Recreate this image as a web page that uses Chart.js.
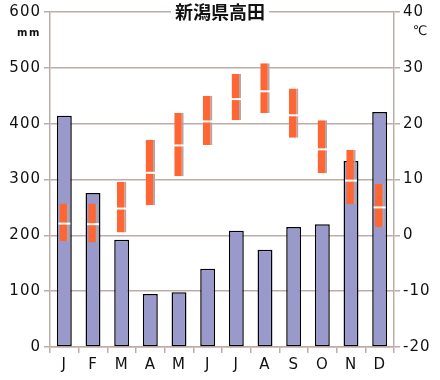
<!DOCTYPE html>
<html>
<head>
<meta charset="utf-8">
<script src="https://cdn.jsdelivr.net/npm/chart.js@4.4.1/dist/chart.umd.min.js"></script>
<style>
  html, body { margin: 0; padding: 0; background: #fff; }
  #wrap { width: 440px; height: 380px; position: relative; }
</style>
</head>
<body>
<div id="wrap"><canvas id="climate"></canvas></div>
<script>
// ------ Data (新潟県高田) ------
const months   = ['J', 'F', 'M', 'A', 'M', 'J', 'J', 'A', 'S', 'O', 'N', 'D'];
const precipMm = [414, 276, 192, 95, 98, 140, 208, 174, 215, 220, 333, 421];
const tempMax  = [5.7, 5.7, 9.6, 17.1, 21.9, 25.0, 28.9, 30.8, 26.3, 20.6, 15.3, 9.2];
const tempMin  = [-1.0, -1.3, 0.5, 5.4, 10.6, 16.2, 20.6, 21.9, 17.5, 11.1, 5.6, 1.5];
const tempMean = [2.1, 2.0, 4.8, 11.2, 16.1, 20.4, 24.4, 25.8, 21.5, 15.4, 9.8, 5.0];
const precipTicks = [0, 100, 200, 300, 400, 500, 600];
const tempTicks   = [-20, -10, 0, 10, 20, 30, 40];

const GRID = '#bcadaa';
const TEXT = '#111';
const FONT = 'DejaVu Sans, Verdana, sans-serif';

// title + unit labels, drawn over the top gridline
const labelsPlugin = {
  id: 'labels',
  beforeDraw(chart) { chart.ctx.letterSpacing = '1px'; },
  afterDraw(chart) {
    const ctx = chart.ctx;
    ctx.save();
    ctx.letterSpacing = '0px';
    ctx.font = 'bold 18px "Noto Sans CJK JP", sans-serif';
    const title = '新潟県高田';
    const w = ctx.measureText(title).width;
    ctx.fillStyle = '#fff';
    ctx.fillRect(220 - w / 2 - 4, 0, w + 8, 24);
    ctx.fillStyle = TEXT;
    ctx.textAlign = 'center';
    ctx.textBaseline = 'middle';
    ctx.fillText(title, 220, 12);
    ctx.letterSpacing = '1.5px';
    ctx.font = 'bold 10px ' + FONT;
    ctx.fillText('mm', 29, 33);
    ctx.letterSpacing = '0px';
    ctx.font = '13px ' + FONT;
    ctx.fillText('℃', 420, 32);
    ctx.restore();
  }
};

new Chart(document.getElementById('climate'), {
  type: 'bar',
  data: {
    labels: months,
    datasets: [
      { type: 'line', data: tempMean, yAxisID: 'y2', order: 1,
        showLine: false, pointStyle: 'line', pointRadius: 6,
        pointBorderColor: '#fff', pointBorderWidth: 2, pointBackgroundColor: '#fff' },
      { data: months.map((_, i) => [tempMin[i], tempMax[i]]), yAxisID: 'y2', order: 2,
        grouped: false, barPercentage: 0.33, categoryPercentage: 1,
        backgroundColor: '#ff6633', borderColor: '#b2a7a6',
        borderWidth: { left: 0, top: 0, bottom: 0, right: 2 }, borderSkipped: false },
      { data: precipMm, yAxisID: 'y', order: 3,
        grouped: false, barPercentage: 0.52, categoryPercentage: 1,
        backgroundColor: '#9999cc', borderColor: '#000', borderWidth: 1.5, borderSkipped: false }
    ]
  },
  options: {
    responsive: true, maintainAspectRatio: false, animation: false,
    layout: { padding: { top: 12, left: 0, right: 0, bottom: 0 } },
    plugins: { legend: { display: false }, tooltip: { enabled: false } },
    scales: {
      x: {
        offset: true,
        grid: { offset: true, drawOnChartArea: false, color: GRID, tickLength: 6, lineWidth: 1.5 },
        border: { color: GRID, width: 1.5 },
        ticks: { color: TEXT, font: { family: FONT, size: 15 }, padding: 3 },
        afterFit: s => { s.height = 33; }
      },
      y: {
        position: 'left', min: 0, max: 600,
        afterBuildTicks: s => { s.ticks = precipTicks.map(v => ({ value: v })); },
        grid: { color: GRID, tickLength: 6, lineWidth: 1.5 },
        border: { color: GRID, width: 1.5 },
        ticks: { color: TEXT, font: { family: FONT, size: 15 }, padding: 3 },
        afterFit: s => { s.width = 50; }
      },
      y2: {
        position: 'right', min: -20, max: 40,
        afterBuildTicks: s => { s.ticks = tempTicks.map(v => ({ value: v })); },
        grid: { drawOnChartArea: false, color: GRID, tickLength: 6, lineWidth: 1.5 },
        border: { color: GRID, width: 1.5 },
        ticks: { color: TEXT, font: { family: FONT, size: 15 }, padding: 3 },
        afterFit: s => { s.width = 46; }
      }
    }
  },
  plugins: [labelsPlugin]
});
</script>
</body>
</html>
